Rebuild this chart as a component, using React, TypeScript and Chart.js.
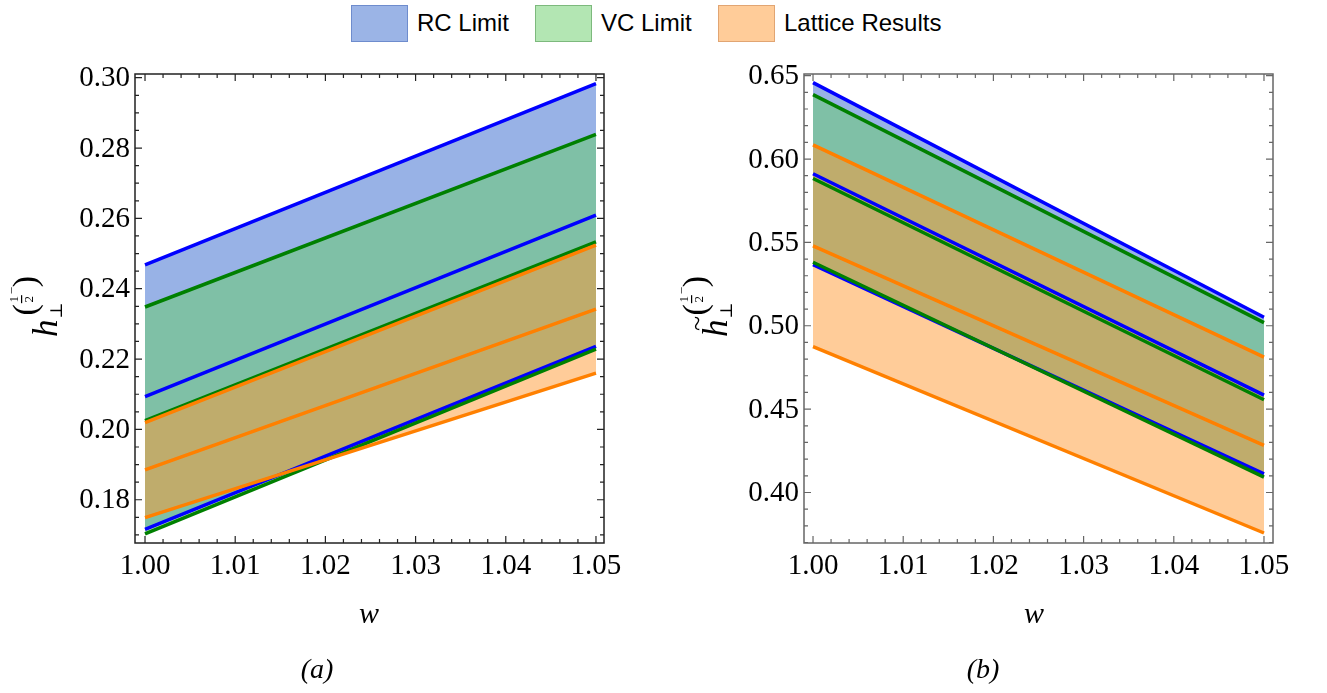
import React, { useEffect, useRef } from "react";
import { Chart, registerables } from "chart.js";
Chart.register(...registerables);

// ---------- data ----------
const wValues = [1.0, 1.05];

// panel (a): h_perp
const aRCUpper = [0.2468, 0.2983];
const aRCCentral = [0.2093, 0.2609];
const aRCLower = [0.1716, 0.2236];
const aVCUpper = [0.2348, 0.2839];
const aVCCentral = [0.2025, 0.2533];
const aVCLower = [0.1703, 0.2228];
const aLatUpper = [0.2019, 0.2524];
const aLatCentral = [0.1885, 0.2342];
const aLatLower = [0.1749, 0.216];

// panel (b): h-tilde_perp
const bRCUpper = [0.6458, 0.5051];
const bRCCentral = [0.5912, 0.4584];
const bRCLower = [0.5367, 0.4112];
const bVCUpper = [0.6386, 0.5019];
const bVCCentral = [0.5883, 0.4556];
const bVCLower = [0.5381, 0.4092];
const bLatUpper = [0.6085, 0.4812];
const bLatCentral = [0.5479, 0.4282];
const bLatLower = [0.4875, 0.3757];

const xTicks = [1.0, 1.01, 1.02, 1.03, 1.04, 1.05];
const aYTicks = [0.18, 0.2, 0.22, 0.24, 0.26, 0.28, 0.3];
const bYTicks = [0.4, 0.45, 0.5, 0.55, 0.6, 0.65];

const legendLabels = ["RC Limit", "VC Limit", "Lattice Results"];

// ---------- styles ----------
const BLUE = "rgb(0,0,255)";
const GREEN = "rgb(0,128,0)";
const ORANGE = "rgb(255,128,0)";
const RC_FILL = "rgba(83,127,213,0.6)";
const VC_FILL = "rgba(101,205,101,0.5)";
const LAT_FILL = "rgba(255,153,51,0.5)";
const legendColors = [
  { bg: "rgb(155,180,230)", border: "rgb(110,140,205)" },
  { bg: "rgb(179,230,179)", border: "rgb(125,185,125)" },
  { bg: "rgb(255,204,153)", border: "rgb(225,165,115)" },
];

const SERIF = '"Liberation Serif", "DejaVu Serif", serif';

type Band = { upper: number[]; central: number[]; lower: number[]; line: string; fill: string };

function pts(vals: number[]) {
  return wValues.map((w, i) => ({ x: w, y: vals[i] }));
}

function bandDatasets(bands: Band[]) {
  const ds: any[] = [];
  bands.forEach((b) => {
    const base = ds.length;
    const common = { borderColor: b.line, borderWidth: 3.5, pointRadius: 0, tension: 0 };
    ds.push({ ...common, data: pts(b.upper), fill: base + 2, backgroundColor: b.fill });
    ds.push({ ...common, data: pts(b.central), fill: false });
    ds.push({ ...common, data: pts(b.lower), fill: false });
  });
  return ds;
}

function drawPerpTitle(ctx: CanvasRenderingContext2D, bx: number, by: number, tilde: boolean) {
  ctx.save();
  ctx.translate(bx, by);
  ctx.rotate(-Math.PI / 2);
  ctx.fillStyle = "#000";
  ctx.textBaseline = "alphabetic";
  ctx.textAlign = "left";
  ctx.font = `italic 35px ${SERIF}`;
  ctx.fillText("h", 0, 0);
  const hw = ctx.measureText("h").width;
  if (tilde) {
    ctx.font = `28px ${SERIF}`;
    ctx.fillText("~", 6, -21);
  }
  // subscript perp
  ctx.font = `17px "DejaVu Serif", serif`;
  ctx.fillText("\u22A5", hw + 1, 5);
  // superscript (1/2 ^-)
  let x = hw + 4;
  ctx.font = `34px ${SERIF}`;
  ctx.fillText("(", x, -21);
  x += ctx.measureText("(").width + 1;
  ctx.font = `13px ${SERIF}`;
  ctx.textAlign = "center";
  ctx.fillText("1", x + 4, -39);
  ctx.fillText("2", x + 4, -24);
  ctx.fillRect(x, -36, 8, 1.2);
  ctx.textAlign = "left";
  ctx.fillText("\u2212", x + 9, -41);
  x += 16;
  ctx.font = `34px ${SERIF}`;
  ctx.fillText(")", x, -21);
  ctx.restore();
}

type PanelCfg = {
  bands: Band[];
  yTicks: number[];
  xMin: number;
  xMax: number;
  yMin: number;
  yMax: number;
  yMinor: number;
  yAxisWidth: number;
  padRight: number;
  frameColor: string;
  tilde: boolean;
  titleX: number;
  wX: number;
  capX: number;
  caption: string;
};

function Panel({ cfg, style }: { cfg: PanelCfg; style: React.CSSProperties }) {
  const ref = useRef<HTMLCanvasElement>(null);
  useEffect(() => {
    if (!ref.current) return;
    const framePlugin = {
      id: "frame",
      afterDraw(chart: any) {
        const { ctx, chartArea: a } = chart;
        const xs = chart.scales.x;
        const ys = chart.scales.y;
        ctx.save();
        ctx.strokeStyle = cfg.frameColor;
        ctx.lineWidth = 1.5;
        ctx.strokeRect(a.left, a.top, a.right - a.left, a.bottom - a.top);
        ctx.lineWidth = 1.2;
        ctx.beginPath();
        // x ticks (major 0.01, minor 0.002)
        for (let k = 0; k <= 25; k++) {
          const v = 1.0 + k * 0.002;
          const px = xs.getPixelForValue(v);
          const len = k % 5 === 0 ? 7 : 4;
          ctx.moveTo(px, a.bottom);
          ctx.lineTo(px, a.bottom - len);
          ctx.moveTo(px, a.top);
          ctx.lineTo(px, a.top + len);
        }
        const y0 = cfg.yTicks[0] - cfg.yMinor * 10;
        const step = cfg.yTicks[1] - cfg.yTicks[0];
        for (let k = 0; k < 200; k++) {
          const v = y0 + k * cfg.yMinor;
          if (v < cfg.yMin - 1e-9) continue;
          if (v > cfg.yMax + 1e-9) break;
          const r = (v - cfg.yTicks[0]) / step;
          const major = Math.abs(r - Math.round(r)) < 1e-6;
          const py = ys.getPixelForValue(v);
          const len = major ? 7 : 4;
          ctx.moveTo(a.left, py);
          ctx.lineTo(a.left + len, py);
          ctx.moveTo(a.right, py);
          ctx.lineTo(a.right - len, py);
        }
        ctx.stroke();
        ctx.restore();

        // tick labels
        ctx.save();
        ctx.fillStyle = "#000";
        ctx.font = `29px ${SERIF}`;
        ctx.textBaseline = "middle";
        ctx.textAlign = "center";
        xTicks.forEach((v) => {
          ctx.fillText(v.toFixed(2), xs.getPixelForValue(v), a.bottom + 23);
        });
        ctx.textAlign = "right";
        cfg.yTicks.forEach((v) => {
          ctx.fillText(v.toFixed(2), a.left - 5, ys.getPixelForValue(v) + 1);
        });
        ctx.restore();

        ctx.save();
        drawPerpTitle(ctx, cfg.titleX, 337, cfg.tilde);
        ctx.fillStyle = "#000";
        ctx.textAlign = "center";
        ctx.textBaseline = "alphabetic";
        ctx.font = `italic 30px ${SERIF}`;
        ctx.fillText("w", cfg.wX, 623);
        ctx.font = `italic 28px ${SERIF}`;
        ctx.fillText(cfg.caption, cfg.capX, 678);
        ctx.restore();
      },
    };
    const chart = new Chart(ref.current, {
      type: "line",
      data: { datasets: bandDatasets(cfg.bands) },
      options: {
        animation: false,
        responsive: false,
        maintainAspectRatio: false,
        layout: { padding: { left: 0, top: 74, right: cfg.padRight, bottom: 0 } },
        plugins: {
          legend: { display: false },
          tooltip: { enabled: false },
          filler: { drawTime: "beforeDatasetsDraw" },
        },
        scales: {
          x: {
            type: "linear",
            min: cfg.xMin,
            max: cfg.xMax,
            grid: { display: false, drawTicks: false },
            border: { display: false },
            afterBuildTicks: (s: any) => {
              s.ticks = xTicks.map((v) => ({ value: v }));
            },
            afterFit: (s: any) => {
              s.height = 150;
            },
            ticks: { display: false },
          },
          y: {
            type: "linear",
            min: cfg.yMin,
            max: cfg.yMax,
            grid: { display: false, drawTicks: false },
            border: { display: false },
            afterBuildTicks: (s: any) => {
              s.ticks = cfg.yTicks.map((v) => ({ value: v }));
            },
            afterFit: (s: any) => {
              s.width = cfg.yAxisWidth;
            },
            ticks: { display: false },
          },
        },
      } as any,
      plugins: [framePlugin],
    });
    return () => chart.destroy();
  }, [cfg]);
  return <canvas ref={ref} width={style.width as number} height={style.height as number} style={style} />;
}

const panelA: PanelCfg = {
  bands: [
    { upper: aLatUpper, central: aLatCentral, lower: aLatLower, line: ORANGE, fill: LAT_FILL },
    { upper: aVCUpper, central: aVCCentral, lower: aVCLower, line: GREEN, fill: VC_FILL },
    { upper: aRCUpper, central: aRCCentral, lower: aRCLower, line: BLUE, fill: RC_FILL },
  ],
  yTicks: aYTicks,
  xMin: 0.99889,
  xMax: 1.05089,
  yMin: 0.1677,
  yMax: 0.30105,
  yMinor: 0.005,
  yAxisWidth: 135,
  padRight: 56,
  frameColor: "#222",
  tilde: false,
  titleX: 57,
  wX: 369,
  capX: 317,
  caption: "(a)",
};

const panelB: PanelCfg = {
  bands: [
    { upper: bLatUpper, central: bLatCentral, lower: bLatLower, line: ORANGE, fill: LAT_FILL },
    { upper: bVCUpper, central: bVCCentral, lower: bVCLower, line: GREEN, fill: VC_FILL },
    { upper: bRCUpper, central: bRCCentral, lower: bRCLower, line: BLUE, fill: RC_FILL },
  ],
  yTicks: bYTicks,
  xMin: 0.999,
  xMax: 1.051,
  yMin: 0.3697,
  yMax: 0.651,
  yMinor: 0.01,
  yAxisWidth: 144,
  padRight: 54,
  frameColor: "#666",
  tilde: true,
  titleX: 67,
  wX: 374,
  capX: 323,
  caption: "(b)",
};

function Legend() {
  const boxes = [351, 535, 718];
  return (
    <>
      {legendLabels.map((lab, i) => (
        <React.Fragment key={lab}>
          <div
            style={{
              position: "absolute",
              left: boxes[i],
              top: 5,
              width: 55,
              height: 35,
              background: legendColors[i].bg,
              border: `1px solid ${legendColors[i].border}`,
            }}
          />
          <div
            style={{
              position: "absolute",
              left: boxes[i] + 66,
              top: 4,
              height: 37,
              lineHeight: "37px",
              fontFamily: '"Liberation Sans", Arial, sans-serif',
              fontSize: 24,
              color: "#000",
              whiteSpace: "nowrap",
            }}
          >
            {lab}
          </div>
        </React.Fragment>
      ))}
    </>
  );
}

export default function App() {
  return (
    <div style={{ position: "absolute", left: 0, top: 0, width: 1327, height: 693, background: "#fff", overflow: "hidden" }}>
      <Legend />
      <Panel cfg={panelA} style={{ position: "absolute", left: 0, top: 0, width: 660, height: 693 }} />
      <Panel cfg={panelB} style={{ position: "absolute", left: 660, top: 0, width: 667, height: 693 }} />
    </div>
  );
}
